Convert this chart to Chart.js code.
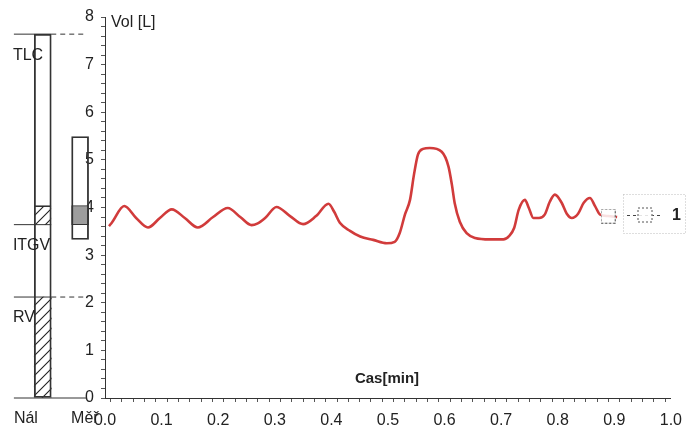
<!DOCTYPE html>
<html>
<head>
<meta charset="utf-8">
<script src="https://cdn.jsdelivr.net/npm/chart.js@4"></script>
<style>
  html, body { margin: 0; padding: 0; background: #fff; }
  #wrap { width: 691px; height: 432px; }
</style>
</head>
<body>
<div id="wrap"><canvas id="volChart" width="691" height="432"></canvas></div>
<script>
// lung volumes: Nál = predicted column, Měř = measured column, plus the volume trace
const columns = ['Nál', 'Měř'];
const levelNames = ['TLC', 'ITGV', 'RV'];
const predLevels = [7.64, 3.64, 2.12];
const predBand = [3.64, 4.04];
const measRange = [3.33, 5.49];
const measBand = [3.64, 4.04];

const seriesName = '1';
const timeMin = [0.007, 0.012, 0.034, 0.055, 0.076, 0.097, 0.118, 0.141, 0.164, 0.191,
  0.217, 0.239, 0.259, 0.269, 0.283, 0.303, 0.327, 0.350, 0.373, 0.395,
  0.405, 0.415, 0.433, 0.451, 0.474, 0.498, 0.512, 0.521, 0.530, 0.539,
  0.546, 0.553, 0.562, 0.574, 0.595, 0.607, 0.613, 0.618, 0.627, 0.639,
  0.654, 0.680, 0.704, 0.714, 0.723, 0.731, 0.742, 0.749, 0.757, 0.767,
  0.777, 0.786, 0.795, 0.807, 0.816, 0.825, 0.836, 0.846, 0.857, 0.866,
  0.875, 0.889, 0.905];
const volL = [3.61, 3.68, 4.03, 3.78, 3.58, 3.78, 3.96, 3.78, 3.58, 3.80,
  3.99, 3.80, 3.63, 3.66, 3.78, 4.01, 3.82, 3.65, 3.82, 4.08,
  3.91, 3.68, 3.51, 3.39, 3.32, 3.25, 3.28, 3.47, 3.85, 4.16,
  4.69, 5.11, 5.23, 5.25, 5.17, 4.86, 4.48, 4.09, 3.70, 3.46,
  3.36, 3.33, 3.33, 3.40, 3.57, 3.95, 4.16, 3.99, 3.78, 3.78,
  3.85, 4.12, 4.27, 4.10, 3.87, 3.78, 3.87, 4.10, 4.20, 4.03,
  3.85, 3.82, 3.80];
const markTime = 0.889;

// column centres and reference-line ends, in time-axis units left of zero
const X_NAL = -0.110;
const X_MER = -0.044;
const X_LINE0 = -0.161;
const X_LINE1 = -0.095;
const X_LINE2 = -0.032;
const dashedTail = [true, false, true];

const SANS = '"Liberation Sans", Arial, sans-serif';
const INK = '#222';

function hatchPattern(ctx) {
  const c = document.createElement('canvas');
  c.width = 10; c.height = 10;
  const g = c.getContext('2d');
  g.strokeStyle = '#222';
  g.lineWidth = 1.1;
  g.beginPath();
  g.moveTo(-1, 11); g.lineTo(11, -1);
  g.moveTo(-1, 1); g.lineTo(1, -1);
  g.moveTo(9, 11); g.lineTo(11, 9);
  g.stroke();
  return ctx.createPattern(c, 'repeat');
}

function drawSquare(g, cx, cy, s) {
  g.save();
  g.fillStyle = 'rgba(255,255,255,0.85)';
  g.fillRect(cx - s / 2, cy - s / 2, s, s);
  g.strokeStyle = '#555';
  g.lineWidth = 1;
  g.setLineDash([2, 2]);
  g.strokeRect(cx - s / 2 + 0.5, cy - s / 2 + 0.5, s - 1, s - 1);
  g.restore();
}

function squareMark() {
  const c = document.createElement('canvas');
  c.width = 15; c.height = 15;
  drawSquare(c.getContext('2d'), 7.5, 7.5, 15);
  return c;
}

const canvas = document.getElementById('volChart');
const ctx = canvas.getContext('2d');
const hatch = hatchPattern(ctx);
const mark = squareMark();
const markIdx = timeMin.indexOf(markTime);

const levelSets = levelNames.map((name, i) => {
  const pts = [{x: X_LINE0, y: predLevels[i]}, {x: X_LINE1, y: predLevels[i]}];
  if (dashedTail[i]) pts.push({x: X_LINE2, y: predLevels[i]});
  return {
    type: 'line',
    label: name,
    data: pts,
    borderColor: '#333',
    borderWidth: 1,
    pointRadius: 0,
    clip: false,
    segment: { borderDash: c => c.p0DataIndex >= 1 ? [5, 4] : undefined }
  };
});

const baseLine = {
  type: 'line',
  label: 'base',
  data: [{x: X_LINE0, y: 0}, {x: X_LINE2, y: 0}],
  borderColor: '#333',
  borderWidth: 1,
  pointRadius: 0,
  clip: false
};

const columnBars = {
  type: 'bar',
  label: 'columns',
  data: [
    {x: X_NAL, y: [0, predLevels[2]]},
    {x: X_NAL, y: predBand},
    {x: X_MER, y: measBand},
    {x: X_NAL, y: [0, predLevels[0]]},
    {x: X_MER, y: measRange}
  ],
  backgroundColor: [hatch, hatch, '#9d9d9d', 'rgba(0,0,0,0)', 'rgba(0,0,0,0)'],
  borderColor: '#333',
  borderWidth: [0, {top: 1}, 1, 1.2, 1.2],
  borderSkipped: false,
  barThickness: 17,
  clip: false
};

const trace = {
  type: 'line',
  label: seriesName,
  data: timeMin.map((t, i) => ({x: t, y: volL[i]})),
  borderColor: '#d13b3b',
  borderWidth: 2.6,
  cubicInterpolationMode: 'monotone',
  pointStyle: mark,
  pointRadius: c => c.dataIndex === markIdx ? 8 : 0
};

const decor = {
  id: 'decor',
  afterDatasetsDraw(chart) {
    const g = chart.ctx;
    const x = chart.scales.x;
    const y = chart.scales.y;
    g.save();
    g.fillStyle = INK;
    g.textBaseline = 'middle';

    g.font = '16px ' + SANS;
    levelNames.forEach((n, i) => {
      g.fillText(n, x.getPixelForValue(X_LINE0) - 1, y.getPixelForValue(predLevels[i]) + 21);
    });
    g.fillText(columns[0], x.getPixelForValue(X_LINE0), 419);
    g.fillText(columns[1], x.getPixelForValue(X_MER) - 9, 419);

    g.fillText('Vol [L]', x.left + 6, 23);
    g.font = 'bold 15px ' + SANS;
    g.textAlign = 'center';
    g.fillText('Cas[min]', 387, 379);

    // legend box
    g.strokeStyle = '#bdbdbd';
    g.lineWidth = 1;
    g.setLineDash([1, 2]);
    g.strokeRect(623.5, 194.5, 62, 39);
    g.strokeStyle = '#444';
    g.setLineDash([3, 3]);
    g.beginPath();
    g.moveTo(627, 215.5); g.lineTo(663, 215.5);
    g.stroke();
    g.setLineDash([]);
    drawSquare(g, 645, 215, 15);
    g.font = 'bold 16px ' + SANS;
    g.textAlign = 'left';
    g.fillText(trace.label, 672, 216);
    g.restore();
  }
};

const tickFont = {family: SANS, size: 16};
const isWhole = (v, k) => Math.abs(v * k - Math.round(v * k)) < 1e-6;

new Chart(canvas, {
  type: 'line',
  data: { datasets: [columnBars, baseLine, ...levelSets, trace] },
  options: {
    responsive: false,
    animation: false,
    layout: { padding: {left: 0, top: 17, right: 20, bottom: 0} },
    plugins: { legend: {display: false}, tooltip: {enabled: false} },
    scales: {
      x: {
        type: 'linear',
        offset: false,
        afterDataLimits: s => { s.min = 0; s.max = 1; },
        afterFit: s => { s.height = 34; },
        grid: { drawOnChartArea: false, tickLength: 4, color: '#555' },
        border: { color: '#333', width: 1 },
        ticks: {
          stepSize: 0.02, autoSkip: false, maxRotation: 0, padding: 9,
          color: INK, font: tickFont,
          callback: v => isWhole(v, 10) ? v.toFixed(1) : ''
        }
      },
      y: {
        min: 0, max: 8,
        stacked: false,
        afterFit: s => { s.width = 105; },
        grid: { drawOnChartArea: false, tickLength: 4, color: '#555' },
        border: { color: '#333', width: 1 },
        ticks: {
          stepSize: 0.2, autoSkip: false, padding: 7,
          color: INK, font: tickFont,
          callback: v => isWhole(v, 1) ? String(Math.round(v)) : ''
        }
      }
    }
  },
  plugins: [decor]
});
</script>
</body>
</html>
